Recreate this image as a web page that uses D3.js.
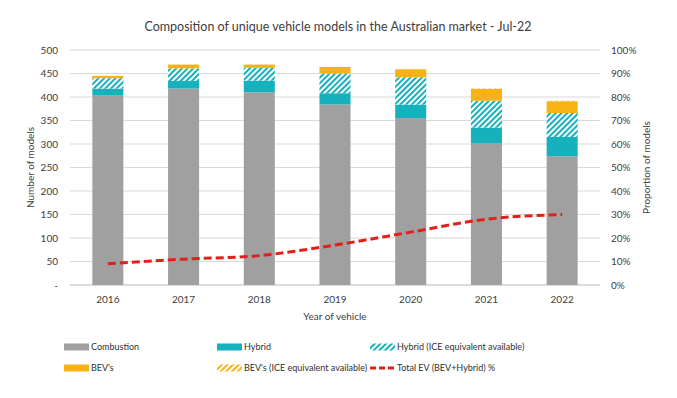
<!DOCTYPE html>
<html><head><meta charset="utf-8">
<script src="https://cdn.jsdelivr.net/npm/d3@7"></script>
<style>body{margin:0;background:#fff}svg{display:block;font-family:Lato,"Open Sans",sans-serif}</style>
</head><body><svg id="c" width="677" height="398"></svg>
<script>
const years = ["2016","2017","2018","2019","2020","2021","2022"];
const combustion = [404, 418, 410, 384, 355, 301, 274];
const hybrid = [14, 16, 25, 24, 29, 34, 41];
const hybridIce = [22, 27, 27, 42, 58, 57, 51];
const bev = [5, 8, 7, 14, 17, 25, 25];
const bevIce = [0, 0, 0, 0, 0, 1, 1];
const evShare = [0.09, 0.11, 0.125, 0.17, 0.225, 0.28, 0.30];
const leftTicks = [0,50,100,150,200,250,300,350,400,450,500];
const rightTicks = [0,0.1,0.2,0.3,0.4,0.5,0.6,0.7,0.8,0.9,1];

const svg = d3.select("#c");
const W = 677, H = 398;
const m = {l:70, r:77, t:50, b:113};
const x = d3.scaleBand().domain(years).range([m.l, W-m.r]).paddingInner(0.59).paddingOuter(0.295);
const y = d3.scaleLinear().domain([0,500]).range([H-m.b, m.t]);
const y2 = d3.scaleLinear().domain([0,1]).range([H-m.b, m.t]);

const defs = svg.append("defs");
function hatch(id, color){
  const p = defs.append("pattern").attr("id",id).attr("patternUnits","userSpaceOnUse")
    .attr("width",4).attr("height",4).attr("patternTransform","rotate(45)");
  p.append("rect").attr("width",4).attr("height",4).attr("fill","#fff");
  p.append("rect").attr("width",2).attr("height",4).attr("fill",color);
}
const teal = "#16b1bd", orange = "#f9b214", grey = "#a0a0a0", red = "#e0201c";
hatch("hTeal", teal); hatch("hOrange", orange);

// gridlines
svg.append("g").selectAll("line").data(leftTicks).join("line")
  .attr("x1", m.l).attr("x2", W-m.r).attr("y1", d=>y(d)).attr("y2", d=>y(d))
  .attr("stroke", d=> d===0 ? "#d0d0d0" : "#d9d9d9").attr("stroke-width", d=> d===0?1.5:1);

// stacked bars
const seriesDefs = [
  {vals: combustion, fill: grey, name:"Combustion"},
  {vals: hybrid, fill: teal, name:"Hybrid"},
  {vals: hybridIce, fill: "url(#hTeal)", name:"Hybrid (ICE equivalent available)"},
  {vals: bev, fill: orange, name:"BEV's"},
  {vals: bevIce, fill: "url(#hOrange)", name:"BEV's (ICE equivalent available)"}
];
const table = years.map((yr,i)=>{const o={year:yr}; seriesDefs.forEach((s,k)=>o["s"+k]=s.vals[i]); return o;});
const stack = d3.stack().keys(seriesDefs.map((s,k)=>"s"+k))(table);
const bars = svg.append("g");
stack.forEach((layer,k)=>{
  bars.append("g").selectAll("rect").data(layer).join("rect")
    .attr("x", d=>x(d.data.year)).attr("width", x.bandwidth())
    .attr("y", d=>y(d[1])).attr("height", d=>Math.max(0, y(d[0])-y(d[1])))
    .attr("fill", seriesDefs[k].fill);
});

// line
const line = d3.line().x((d,i)=>x(years[i])+x.bandwidth()/2).y(d=>y2(d)).curve(d3.curveMonotoneX);
svg.append("path").datum(evShare).attr("d", line).attr("fill","none")
  .attr("stroke", red).attr("stroke-width", 3).attr("stroke-dasharray","8,4");

// axes labels
const tickFont = 10;
svg.append("g").selectAll("text").data(leftTicks).join("text")
  .attr("x", 58).attr("y", d=>y(d)).attr("dy","0.35em").attr("text-anchor","end")
  .attr("font-size", tickFont).attr("fill","#404040").text(d=> d===0 ? "-" : d);
svg.append("g").selectAll("text").data(rightTicks).join("text")
  .attr("x", 611).attr("y", d=>y2(d)).attr("dy","0.35em").attr("text-anchor","start")
  .attr("font-size", tickFont).attr("fill","#404040").text(d=> Math.round(d*100)+"%");
svg.append("g").selectAll("text").data(years).join("text")
  .attr("x", d=>x(d)+x.bandwidth()/2).attr("y", 299).attr("dy","0.35em").attr("text-anchor","middle")
  .attr("font-size", tickFont).attr("fill","#404040").text(d=>d);

svg.append("text").attr("transform","translate(34,"+(y(250))+") rotate(-90)")
  .attr("text-anchor","middle").attr("font-size",10).attr("fill","#404040").text("Number of models");
svg.append("text").attr("transform","translate(650,"+(y(250))+") rotate(-90)")
  .attr("text-anchor","middle").attr("font-size",10).attr("fill","#404040").text("Proportion of models");
svg.append("text").attr("x", 335).attr("y", 316).attr("dy","0.35em").attr("text-anchor","middle")
  .attr("font-size",10).attr("fill","#404040").text("Year of vehicle");
svg.append("text").attr("x", 338).attr("y", 27).attr("dy","0.35em").attr("text-anchor","middle")
  .attr("font-size",12.5).attr("fill","#404040").text("Composition of unique vehicle models in the Australian market - Jul-22");

// legend
const legendItems = [
  {name: seriesDefs[0].name, fill: seriesDefs[0].fill, col:0, row:0},
  {name: seriesDefs[1].name, fill: seriesDefs[1].fill, col:1, row:0},
  {name: seriesDefs[2].name, fill: seriesDefs[2].fill, col:2, row:0},
  {name: seriesDefs[3].name, fill: seriesDefs[3].fill, col:0, row:1},
  {name: seriesDefs[4].name, fill: seriesDefs[4].fill, col:1, row:1},
  {name: "Total EV (BEV+Hybrid) %", line:true, col:2, row:1}
];
const colX = [64, 217, 370], rowY = [347, 368];
const lg = svg.append("g").selectAll("g").data(legendItems).join("g")
  .attr("transform", d=>`translate(${colX[d.col]},${rowY[d.row]})`);
lg.each(function(d){
  const g = d3.select(this);
  if (d.line) {
    g.append("line").attr("x1",0).attr("x2",25).attr("y1",0).attr("y2",0)
      .attr("stroke", red).attr("stroke-width",3).attr("stroke-dasharray","6,3");
  } else {
    g.append("rect").attr("x",0).attr("y",-3.5).attr("width",25).attr("height",7).attr("fill", d.fill);
  }
  g.append("text").attr("x",27).attr("y",0).attr("dy","0.35em").attr("font-size",9)
    .attr("fill","#303030").text(d.name);
});
</script></body></html>
